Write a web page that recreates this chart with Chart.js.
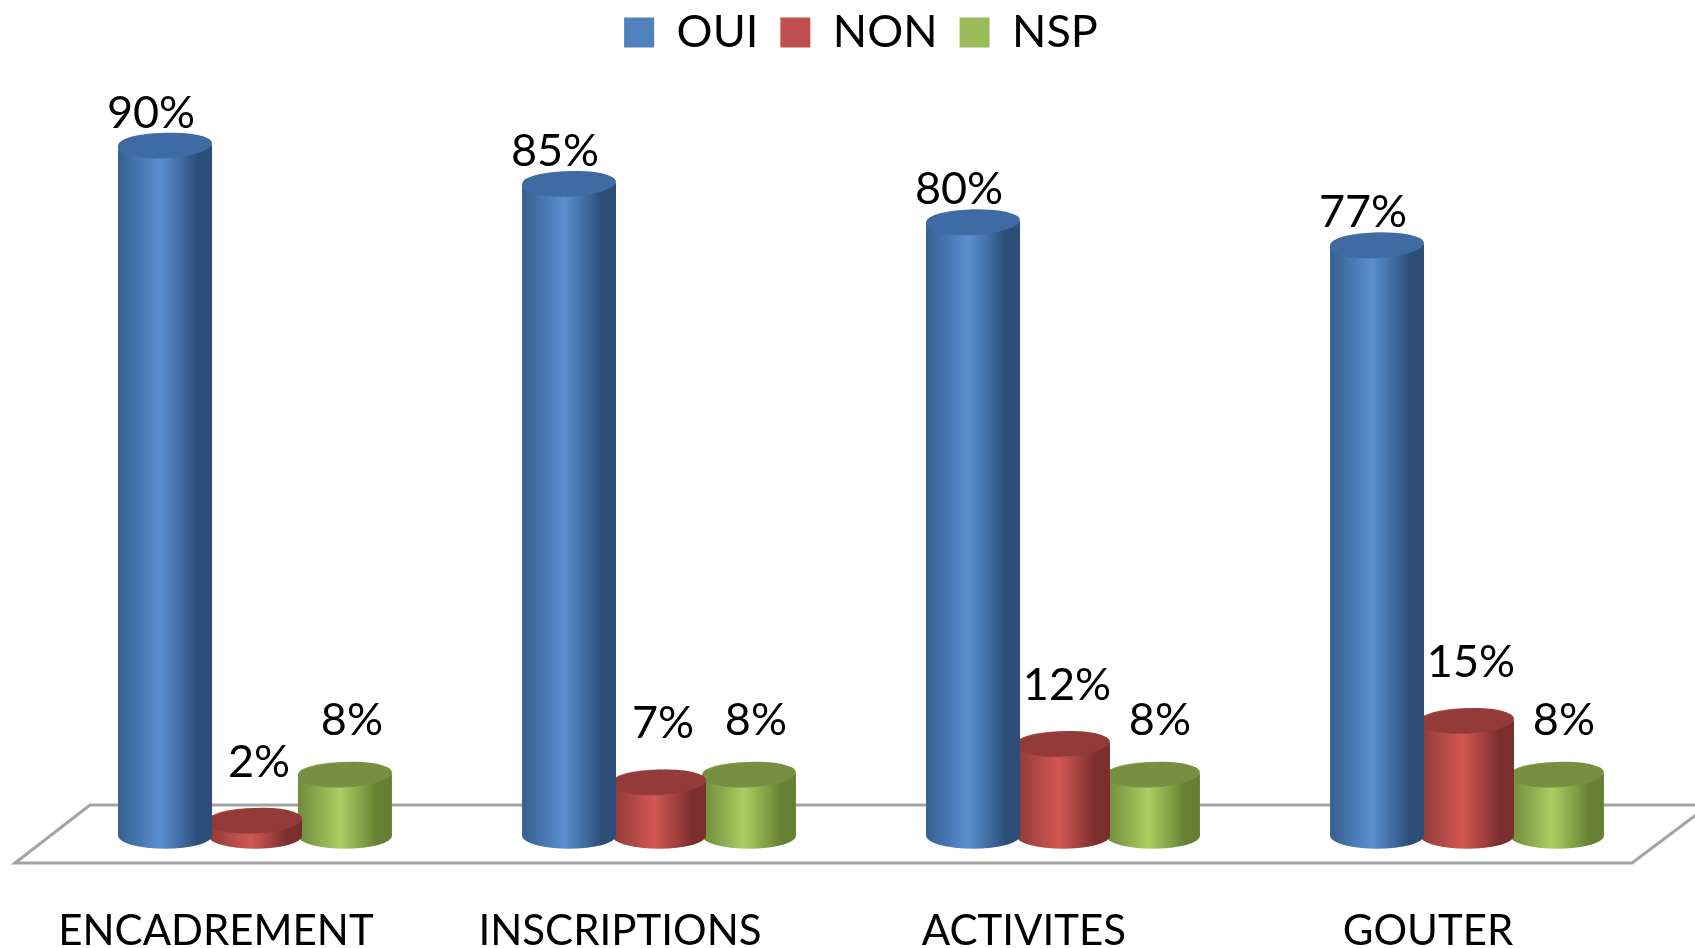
<!DOCTYPE html>
<html>
<head>
<meta charset="utf-8">
<script src="https://cdn.jsdelivr.net/npm/chart.js@4.4.0/dist/chart.umd.min.js"></script>
<style>
  html, body { margin: 0; padding: 0; background: #fff; }
  canvas { display: block; }
</style>
</head>
<body>
<canvas id="myChart" width="1695" height="948"></canvas>
<script>
// categories + series
var categories = ["ENCADREMENT", "INSCRIPTIONS", "ACTIVITES", "GOUTER"];
var seriesNames = ["OUI", "NON", "NSP"];
var oui = [90, 85, 80, 77];
var non = [2, 7, 12, 15];
var nsp = [8, 8, 8, 8];

var baseColors = ['#4f81bd', '#c0504d', '#9bbb59'];
// left edge / highlight / right edge / top cap
var shades = [
  ['#365f8f', '#5a8fd2', '#2c4e78', '#3e6ba3'],
  ['#8f3a38', '#d25753', '#7a2f2d', '#933b39'],
  ['#6f8a3a', '#abcd62', '#667f31', '#788f41']
];
var labelDx = [-14, 4, 7];
var labelGap = [18, 44, 40];

// floor drawn under the bars
var floorPlugin = {
  id: 'floor',
  beforeDatasetsDraw: function(chart) {
    var ctx = chart.ctx, a = chart.chartArea;
    var base = chart.scales.y.getPixelForValue(0);
    var back = base - 31, front = base + 27;
    ctx.save();
    ctx.beginPath();
    ctx.moveTo(a.left + 37, back);
    ctx.lineTo(a.right + 40, back);
    ctx.lineTo(a.right - 37, front);
    ctx.lineTo(a.left - 38, front);
    ctx.closePath();
    ctx.fillStyle = '#ffffff';
    ctx.fill();
    ctx.lineWidth = 3;
    ctx.strokeStyle = '#a3a3a3';
    ctx.stroke();
    ctx.restore();
  }
};

// cylinders instead of flat bars
var cylPlugin = {
  id: 'cyl',
  beforeDatasetDraw: function() { return false; },
  afterDatasetsDraw: function(chart) {
    var ctx = chart.ctx;
    for (var d = chart.data.datasets.length - 1; d >= 0; d--) {
      var meta = chart.getDatasetMeta(d);
      var sh = shades[d];
      meta.data.forEach(function(bar, i) {
        var w = bar.width + 4;
        var rx = w / 2, ry = w * 0.135;
        var x = bar.x, top = bar.y, base = bar.base;
        ctx.save();
        var g = ctx.createLinearGradient(x - rx, 0, x + rx, 0);
        g.addColorStop(0, sh[0]);
        g.addColorStop(0.45, sh[1]);
        g.addColorStop(0.85, sh[2]);
        g.addColorStop(1, sh[2]);
        ctx.beginPath();
        ctx.moveTo(x - rx, top);
        ctx.lineTo(x - rx, base);
        ctx.ellipse(x, base, rx, ry, 0, Math.PI, 0, true);
        ctx.lineTo(x + rx, top);
        ctx.ellipse(x, top, rx, ry, 0, 0, Math.PI, true);
        ctx.closePath();
        ctx.fillStyle = g;
        ctx.fill();
        ctx.beginPath();
        ctx.ellipse(x, top, rx, ry, -0.05, 0, Math.PI * 2);
        ctx.fillStyle = sh[3];
        ctx.fill();
        // value label
        ctx.fillStyle = '#000';
        ctx.font = '45px Lato';
        ctx.textAlign = 'center';
        ctx.textBaseline = 'alphabetic';
        var v = chart.data.datasets[d].data[i];
        ctx.fillText(v + '%', x + labelDx[d], top - labelGap[d]);
        ctx.restore();
      });
    }
  }
};

var ctx = document.getElementById('myChart').getContext('2d');
var myChart = new Chart(ctx, {
  type: 'bar',
  data: {
    labels: categories,
    datasets: [
      { label: seriesNames[0], data: oui, backgroundColor: baseColors[0], borderWidth: 0 },
      { label: seriesNames[1], data: non, backgroundColor: baseColors[1], borderWidth: 0 },
      { label: seriesNames[2], data: nsp, backgroundColor: baseColors[2], borderWidth: 0 }
    ]
  },
  options: {
    responsive: false,
    animation: false,
    layout: { padding: { top: -12, left: 53, right: 26, bottom: 0 } },
    datasets: { bar: { categoryPercentage: 0.668, barPercentage: 1.0 } },
    plugins: {
      legend: {
        position: 'top',
        labels: {
          boxWidth: 30,
          boxHeight: 30,
          padding: 22,
          color: '#000',
          font: { family: 'Lato', size: 45 }
        }
      },
      tooltip: { enabled: false }
    },
    scales: {
      x: {
        grid: { display: false, drawTicks: false },
        border: { display: false },
        afterFit: function(scale) { scale.height = 112; },
        ticks: {
          color: '#000',
          padding: 74,
          labelOffset: -39,
          maxRotation: 0,
          autoSkip: false,
          font: { family: 'Lato', size: 42, lineHeight: 1.0 }
        }
      },
      y: {
        display: false,
        min: 0,
        max: 100.5
      }
    }
  },
  plugins: [floorPlugin, cylPlugin]
});
</script>
</body>
</html>
